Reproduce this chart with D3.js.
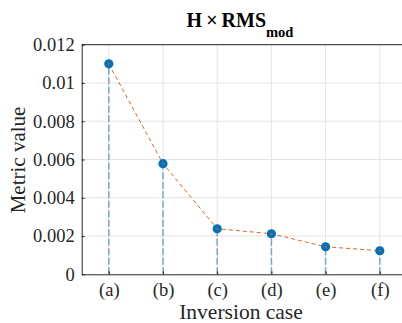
<!DOCTYPE html>
<html><head><meta charset="utf-8">
<script src="https://cdn.jsdelivr.net/npm/d3@7"></script>
<style>body{margin:0;background:#fff}svg{display:block}text{font-family:"Liberation Serif","Times New Roman",serif}</style>
</head><body>
<svg id="c" width="402" height="323"></svg>
<script>
const categories = ["(a)","(b)","(c)","(d)","(e)","(f)"];
const values = [0.0110, 0.00578, 0.00238, 0.00212, 0.00144, 0.00123];
const yTicks = [0, 0.002, 0.004, 0.006, 0.008, 0.01, 0.012];
const yTickLabels = ["0","0.002","0.004","0.006","0.008","0.01","0.012"];

const svg = d3.select("#c");
const SERIF = '"Liberation Serif","Times New Roman",serif';
const L = 81.7, T = 44.7, B = 274.3;
const idx = categories.map((d,i)=>i+1);
const x = d3.scaleLinear().domain([0.5, 6.5]).range([L, L + 6*54.2]);
const y = d3.scaleLinear().domain([0, 0.012]).range([B, T]);
const R = x.range()[1];

// grid
svg.append("g").selectAll("line").data(yTicks.slice(1)).join("line")
  .attr("x1", L).attr("x2", R).attr("y1", d=>y(d)).attr("y2", d=>y(d))
  .attr("stroke", "#e3e3e3").attr("stroke-width", 1);
svg.append("g").selectAll("line").data(idx).join("line")
  .attr("x1", d=>x(d)).attr("x2", d=>x(d)).attr("y1", T).attr("y2", B)
  .attr("stroke", "#e3e3e3").attr("stroke-width", 1);

// stems
svg.append("g").selectAll("line").data(values).join("line")
  .attr("x1", (d,i)=>x(i+1)).attr("x2", (d,i)=>x(i+1))
  .attr("y1", y(0)).attr("y2", d=>y(d))
  .attr("stroke", "#0072BD").attr("stroke-opacity", 0.5).attr("stroke-width", 1.6)
  .attr("stroke-dasharray", "7,2.5");

// axes
const ax = d3.axisBottom(x).tickValues(idx).tickFormat((d,i)=>categories[i]).tickSizeInner(-3).tickSizeOuter(0).tickPadding(9);
const gx = svg.append("g").attr("transform", `translate(0,${B})`).call(ax);
const ay = d3.axisLeft(y).tickValues(yTicks).tickFormat((d,i)=>yTickLabels[i]).tickSizeInner(-3).tickSizeOuter(0).tickPadding(7);
const gy = svg.append("g").attr("transform", `translate(${L},0)`).call(ay);
[gx, gy].forEach(g=>{
  g.attr("font-family", SERIF).attr("font-size", 18.5);
  g.select(".domain").attr("stroke", "#262626").attr("stroke-width", 1);
  g.selectAll(".tick line").attr("stroke", "#262626");
  g.selectAll(".tick text").attr("fill", "#262626");
});
// top border
svg.append("line").attr("x1", L).attr("x2", R).attr("y1", T).attr("y2", T).attr("stroke", "#262626");

// connecting line
const line = d3.line().x((d,i)=>x(i+1)).y(d=>y(d));
svg.append("path").datum(values).attr("d", line).attr("fill", "none")
  .attr("stroke", "#D95319").attr("stroke-width", 0.9).attr("stroke-dasharray", "4,3");

// markers
svg.append("g").selectAll("circle").data(values).join("circle")
  .attr("cx", (d,i)=>x(i+1)).attr("cy", d=>y(d)).attr("r", 4.6).attr("fill", "#0072BD");
svg.append("g").selectAll("circle").data(values).join("circle")
  .attr("cx", (d,i)=>x(i+1)).attr("cy", d=>y(d)).attr("r", 1.1).attr("fill", "#D95319");

// labels
svg.append("text").attr("x", 241).attr("y", 319).attr("text-anchor", "middle")
  .attr("font-family", SERIF).attr("fill", "#262626").attr("font-size", 21.5).text("Inversion case");
svg.append("text").attr("transform", "translate(25,160) rotate(-90)").attr("text-anchor", "middle")
  .attr("font-family", SERIF).attr("fill", "#262626").attr("font-size", 21).text("Metric value");
const t = svg.append("text").attr("x", 240).attr("y", 26.5).attr("text-anchor", "middle")
  .attr("font-family", SERIF).attr("fill", "#000").attr("font-size", 20).attr("font-weight", "bold");
t.append("tspan").text("H\u2009\u00D7\u2009RMS");
t.append("tspan").attr("dy", 10.5).attr("font-size", 14.5).text("mod");
</script>
</body></html>
